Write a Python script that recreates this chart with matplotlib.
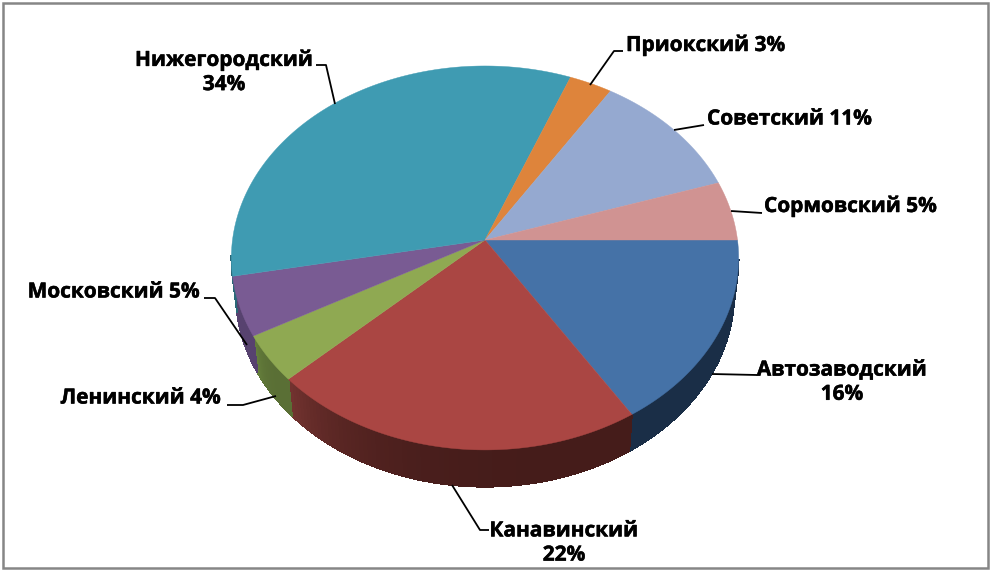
import matplotlib
matplotlib.use("Agg")
import matplotlib.pyplot as plt
import matplotlib.patheffects as pe
from matplotlib.collections import PolyCollection
from matplotlib.patches import Rectangle
import numpy as np

districts = ["Автозаводский", "Канавинский", "Ленинский", "Московский",
             "Нижегородский", "Приокский", "Советский", "Сормовский"]
shares = [16, 22, 4, 5, 34, 3, 11, 5]
top_colors = ["#4572a7", "#aa4643", "#8fa952", "#795b93",
              "#3f9bb2", "#de843b", "#95a9d0", "#d09392"]
wall_light = ["#1a2e47", "#743330", "#66803c", "#57426f",
              "#2a6878", "#955827", "#64718c", "#8c6362"]
wall_dark = ["#1a2e47", "#451c1a", "#5a6f35", "#57426f",
             "#2a6878", "#955827", "#64718c", "#8c6362"]

# labels: text, anchor x, y, alignment, leader polyline (pixels)
label_text = ["Автозаводский\n16%", "Канавинский\n22%", "Ленинский 4%", "Московский 5%",
              "Нижегородский\n34%", "Приокский 3%", "Советский 11%", "Сормовский 5%"]
label_pos = [(842, 382), (564, 543), (221, 398), (200, 292),
             (224, 72), (626, 45), (707, 119), (764, 206)]
label_ha = ["center", "center", "right", "right", "center", "left", "left", "left"]
leaders = [[(712, 374), (757, 375)],
           [(452, 485), (480, 530), (489, 530)],
           [(276, 396), (243, 405), (227, 405)],
           [(247, 345), (215, 298), (204, 298)],
           [(335, 104), (326, 65), (316, 65)],
           [(590, 85), (614, 51), (623, 51)],
           [(674, 130), (704, 125)],
           [(731, 211), (762, 213)]]

CX, CY = 485, 240
K = 0.0935


def project(t, cy=CY, a=190.3, b=252.5):
    # flat disc seen in perspective, t clockwise from 3 o'clock
    x, y = np.cos(t), -np.sin(t)
    d = 1 + K * y
    return CX + b * x / d, cy - a * y / d


def hex_rgb(c):
    return np.array(matplotlib.colors.to_rgb(c))


fig = plt.figure(figsize=(9.92, 5.71), dpi=100)
ax = fig.add_axes([0, 0, 1, 1])
ax.set_xlim(0, 992)
ax.set_ylim(571, 0)
ax.axis("off")

edges = np.cumsum([0] + shares) / sum(shares) * 2 * np.pi

# side wall, front part only
for i in range(len(shares)):
    ts = np.linspace(edges[i], edges[i + 1], 80)
    xt, yt = project(ts)
    xb, yb = project(ts, cy=276, a=191, b=248)
    quads, cols = [], []
    for j in range(len(ts) - 1):
        if np.sin(ts[j]) < 0.1:
            continue
        quads.append([(xt[j], yt[j]), (xt[j + 1], yt[j + 1]), (xb[j + 1], yb[j + 1]), (xb[j], yb[j])])
        f = (ts[j] - edges[i]) / (edges[i + 1] - edges[i])
        # lighter towards the far end of the slice
        cols.append(hex_rgb(wall_dark[i]) * (1 - f ** 4) + hex_rgb(wall_light[i]) * f ** 4)
    if quads:
        ax.add_collection(PolyCollection(quads, facecolors=cols, edgecolors=cols, linewidths=0.6,
                                         antialiaseds=False, zorder=2))

# top face
for i in range(len(shares)):
    ts = np.linspace(edges[i], edges[i + 1], 120)
    x, y = project(ts)
    ax.fill(np.r_[CX, x], np.r_[CY, y], color=top_colors[i], lw=0.3, zorder=3)

for i, name in enumerate(districts):
    pts = np.array(leaders[i])
    ax.plot(pts[:, 0], pts[:, 1], color="black", lw=1.3, zorder=4, solid_capstyle="butt")
    t = ax.text(label_pos[i][0], label_pos[i][1], label_text[i], ha=label_ha[i], va="center",
                family="Open Sans", weight="bold", fontsize=15, color="black",
                linespacing=1.2, zorder=5)
    t.set_path_effects([pe.withStroke(linewidth=0.35, foreground="black")])

ax.add_patch(Rectangle((3, 3), 985, 565, fill=False, ec="#868686", lw=1.8, zorder=6))

fig.savefig("out.png", dpi=100)
